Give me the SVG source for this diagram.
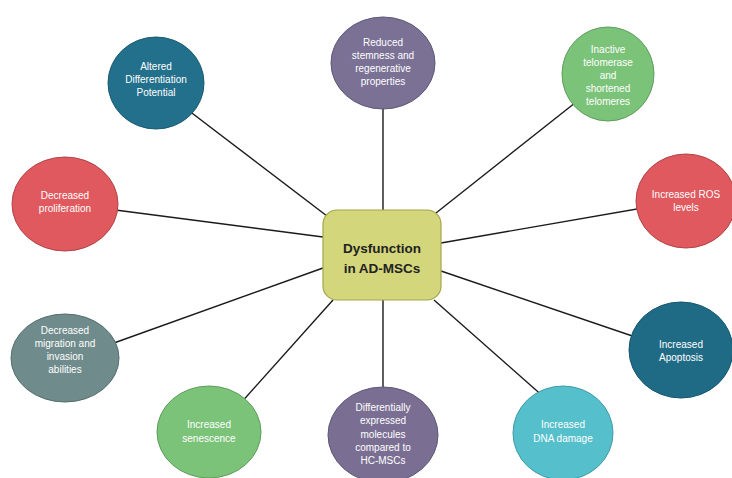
<svg xmlns="http://www.w3.org/2000/svg" width="732" height="478" viewBox="0 0 732 478">
<style>
.bg{fill:#ffffff}
.ln{stroke:#1a1a1a;stroke-width:1.4;fill:none}
.n{stroke-width:1;}
.t{font-family:"Liberation Sans","Open Sans",Arial,sans-serif;font-size:10px;fill:#ffffff;text-anchor:middle}
.c{font-family:"Liberation Sans","Open Sans",Arial,sans-serif;font-size:13.5px;font-weight:bold;fill:#222222;text-anchor:middle}
</style>
<rect class="bg" x="0" y="0" width="732" height="478"/>
<g id="connectors">
<line class="ln" x1="327" y1="216" x2="180" y2="104"/>
<line class="ln" x1="383" y1="210" x2="383" y2="100"/>
<line class="ln" x1="436" y1="213" x2="585" y2="95"/>
<line class="ln" x1="323" y1="237" x2="100" y2="208"/>
<line class="ln" x1="441" y1="243" x2="660" y2="205"/>
<line class="ln" x1="323" y1="268" x2="100" y2="348"/>
<line class="ln" x1="441" y1="271" x2="650" y2="342"/>
<line class="ln" x1="333" y1="300" x2="230" y2="415"/>
<line class="ln" x1="383" y1="300" x2="383" y2="400"/>
<line class="ln" x1="434" y1="300" x2="545" y2="398"/>
</g>
<g id="center">
<rect x="323" y="210" width="118" height="90" rx="14" fill="#d3d67a" stroke="#a3a64c" stroke-width="1.2"/>
<text class="c" x="382" y="253">Dysfunction</text>
<text class="c" x="382" y="273">in AD-MSCs</text>
</g>
<g id="n1">
<ellipse class="n" cx="156" cy="83" rx="48" ry="46" fill="#23708c" stroke="#1a5a70"/>
<text class="t" x="156" y="70">Altered</text>
<text class="t" x="156" y="83">Differentiation</text>
<text class="t" x="156" y="96">Potential</text>
</g>
<g id="n2">
<ellipse class="n" cx="383" cy="63" rx="52" ry="46" fill="#7a7194" stroke="#5e5778"/>
<text class="t" x="383" y="46">Reduced</text>
<text class="t" x="383" y="59">stemness and</text>
<text class="t" x="383" y="72">regenerative</text>
<text class="t" x="383" y="85">properties</text>
</g>
<g id="n3">
<ellipse class="n" cx="608" cy="74" rx="46" ry="47" fill="#7cc37a" stroke="#5e9e5c"/>
<text class="t" x="608" y="53">Inactive</text>
<text class="t" x="608" y="66">telomerase</text>
<text class="t" x="608" y="79">and</text>
<text class="t" x="608" y="92">shortened</text>
<text class="t" x="608" y="105">telomeres</text>
</g>
<g id="n4">
<ellipse class="n" cx="65" cy="204" rx="53" ry="47" fill="#e0595e" stroke="#b04448"/>
<text class="t" x="65" y="199">Decreased</text>
<text class="t" x="65" y="212">proliferation</text>
</g>
<g id="n5">
<ellipse class="n" cx="686" cy="201" rx="50" ry="47" fill="#e0595e" stroke="#b04448"/>
<text class="t" x="686" y="198">Increased ROS</text>
<text class="t" x="686" y="211">levels</text>
</g>
<g id="n6">
<ellipse class="n" cx="65" cy="358" rx="54" ry="44" fill="#6f8b8b" stroke="#566e6e"/>
<text class="t" x="65" y="334">Decreased</text>
<text class="t" x="65" y="347">migration and</text>
<text class="t" x="65" y="360">invasion</text>
<text class="t" x="65" y="373">abilities</text>
</g>
<g id="n7">
<ellipse class="n" cx="681" cy="350" rx="52" ry="48" fill="#1f6b86" stroke="#17566c"/>
<text class="t" x="681" y="348">Increased</text>
<text class="t" x="681" y="361">Apoptosis</text>
</g>
<g id="n8">
<ellipse class="n" cx="209" cy="432" rx="52" ry="46" fill="#7cc37a" stroke="#5e9e5c"/>
<text class="t" x="209" y="428">Increased</text>
<text class="t" x="209" y="442">senescence</text>
</g>
<g id="n9">
<ellipse class="n" cx="383" cy="435" rx="55" ry="48" fill="#7a6f93" stroke="#5e5677"/>
<text class="t" x="383" y="411">Differentially</text>
<text class="t" x="383" y="424">expressed</text>
<text class="t" x="383" y="438">molecules</text>
<text class="t" x="383" y="451">compared to</text>
<text class="t" x="383" y="464">HC-MSCs</text>
</g>
<g id="n10">
<ellipse class="n" cx="563" cy="433" rx="50" ry="47" fill="#55c0cc" stroke="#3f9ca6"/>
<text class="t" x="563" y="428">Increased</text>
<text class="t" x="563" y="442">DNA damage</text>
</g>
</svg>
